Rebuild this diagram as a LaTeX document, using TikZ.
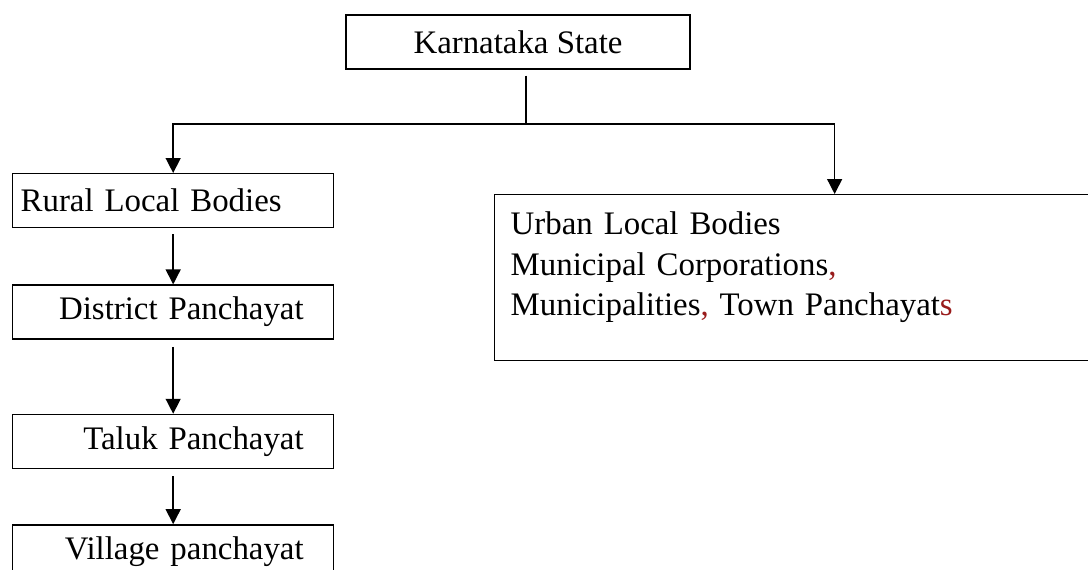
\documentclass[tikz,border=0pt]{standalone}
\usepackage{fontspec}
\setmainfont{Liberation Serif}
\usetikzlibrary{arrows.meta,positioning}
\definecolor{typored}{RGB}{153,27,27}
\tikzset{node distance=1.12cm,
	every node/.style={
		font=\fontsize{18.7}{23}\selectfont
	},
	govbox/.style={
		draw,
		line width=0.8pt,
		inner sep=0pt,
		minimum width=6.42cm,
		minimum height=1.08cm
	},
	leftbox/.style={govbox, text width=6.1cm, align=left},
	rightbox/.style={govbox, text width=5.22cm, align=right},
	link/.style={
		draw,
		line width=0.8pt
	},
	every edge/.style={
		link,
		-{Triangle[width=0.3cm,length=0.3cm]}
	}
}

\begin{document}
\begin{tikzpicture}[x=0.02cm,y=-0.02cm]
		\useasboundingbox (0,0) rectangle (1088,569);
		\clip (0,0) rectangle (1088,569);
		% top level
		\node[govbox, minimum width=6.88cm] (state) at (518,42) {Karnataka State};
		% rural chain
		\node[leftbox, anchor=north west] (rural) at (12,173) {Rural Local Bodies};
		\node[rightbox, below=of rural] (district) {District Panchayat};
		\node[rightbox, below=1.48cm of district] (taluk) {Taluk Panchayat};
		\node[rightbox, below=1.1cm of taluk] (village) {Village panchayat};
		% urban side
		\node[govbox, anchor=north west, minimum width=13.6cm, minimum height=3.32cm,
			inner xsep=0.32cm, text width=12.96cm, align=left] (urban) at (494,194)
			{Urban Local Bodies\\
			 Municipal Corporations{\color{typored},}\\
			 Municipalities{\color{typored},} Town Panchayat{\color{typored}s}\rule[-0.56cm]{0pt}{0.56cm}};
		% connectors
		\coordinate (fork) at (526,124);
		\draw[link] ([yshift=-0.12cm]state.south -| fork) -- (fork);
		\draw (fork) edge[to path={-| (\tikztotarget)}] (rural);
		\draw (fork) edge[to path={-| (\tikztotarget)}] (urban);
		\draw ([yshift=-0.12cm]rural.south) edge (district);
		\draw ([yshift=-0.14cm]district.south) edge (taluk);
		\draw ([yshift=-0.14cm]taluk.south) edge (village);
	\end{tikzpicture}
\end{document}
